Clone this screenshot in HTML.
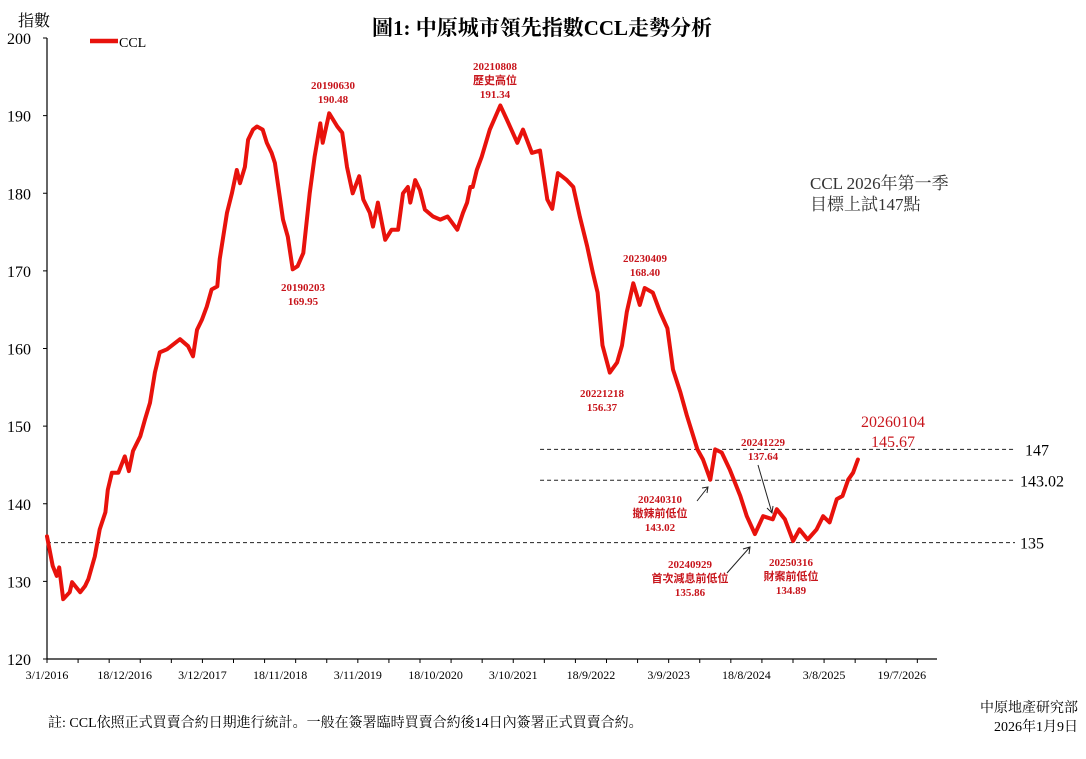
<!DOCTYPE html>
<html><head><meta charset="utf-8">
<style>
html,body{margin:0;padding:0;background:#fff;}
svg{display:block;}
.serif{font-family:"Liberation Serif","Noto Serif CJK SC","Noto Sans CJK TC",serif;}
.ann{font-family:"Liberation Serif","Noto Sans CJK TC",serif;font-size:11px;font-weight:bold;fill:#c8161d;}
</style></head>
<body>
<svg id="chart" width="1086" height="759" viewBox="0 0 1086 759" xmlns="http://www.w3.org/2000/svg">
<text class="serif" x="542" y="35" text-anchor="middle" font-size="21" font-weight="bold" fill="#000">圖1: 中原城市領先指數CCL走勢分析</text>
<text class="serif" x="18" y="26" font-size="16" fill="#000">指數</text>
<g>
<line x1="90" y1="41" x2="118" y2="41" stroke="#e8120c" stroke-width="4.5"/>
<text class="serif" x="119" y="47" font-size="14" fill="#000">CCL</text>
</g>
<g id="axes"></g>
<g id="refs"></g>
<g id="series"></g>
<g>
<text class="ann" x="333" y="89" text-anchor="middle">20190630</text>
<text class="ann" x="333" y="103" text-anchor="middle">190.48</text>
<text class="ann" x="303" y="291" text-anchor="middle">20190203</text>
<text class="ann" x="303" y="305" text-anchor="middle">169.95</text>
<text class="ann" x="495" y="70" text-anchor="middle">20210808</text>
<text class="ann" x="495" y="84" text-anchor="middle">歷史高位</text>
<text class="ann" x="495" y="98" text-anchor="middle">191.34</text>
<text class="ann" x="645" y="262" text-anchor="middle">20230409</text>
<text class="ann" x="645" y="276" text-anchor="middle">168.40</text>
<text class="ann" x="602" y="397" text-anchor="middle">20221218</text>
<text class="ann" x="602" y="411" text-anchor="middle">156.37</text>
<text class="serif" x="893" y="427" text-anchor="middle" font-size="16" fill="#c8161d">20260104</text>
<text class="serif" x="893" y="447" text-anchor="middle" font-size="16" fill="#c8161d">145.67</text>
<text class="ann" x="763" y="446" text-anchor="middle">20241229</text>
<text class="ann" x="763" y="460" text-anchor="middle">137.64</text>
<text class="ann" x="660" y="503" text-anchor="middle">20240310</text>
<text class="ann" x="660" y="517" text-anchor="middle">撤辣前低位</text>
<text class="ann" x="660" y="531" text-anchor="middle">143.02</text>
<text class="ann" x="690" y="568" text-anchor="middle">20240929</text>
<text class="ann" x="690" y="582" text-anchor="middle">首次減息前低位</text>
<text class="ann" x="690" y="596" text-anchor="middle">135.86</text>
<text class="ann" x="791" y="566" text-anchor="middle">20250316</text>
<text class="ann" x="791" y="580" text-anchor="middle">財案前低位</text>
<text class="ann" x="791" y="594" text-anchor="middle">134.89</text>
<g stroke="#222" stroke-width="1" fill="none">
<path d="M697 501 L708 487 M702 488 L708 487 L707 493"/>
<path d="M758 465 L772 513 M767 508 L772 513 L773 506"/>
<path d="M727 573 L750 547 M743 549 L750 547 L749 554"/>
</g>
<text class="serif" x="810" y="189" font-size="17" fill="#333">CCL 2026年第一季</text>
<text class="serif" x="810" y="210" font-size="17" fill="#333">目標上試147點</text>
</g>
<text class="serif" x="48" y="727" font-size="14" fill="#000">註: CCL依照正式買賣合約日期進行統計。一般在簽署臨時買賣合約後14日內簽署正式買賣合約。</text>
<text class="serif" x="1078" y="712" text-anchor="end" font-size="14" fill="#000">中原地產研究部</text>
<text class="serif" x="1078" y="731" text-anchor="end" font-size="14" fill="#000">2026年1月9日</text>
</svg>
<script>
const years=[2016.00,2016.07,2016.12,2016.15,2016.20,2016.28,2016.31,2016.41,2016.47,2016.51,2016.59,2016.65,2016.72,2016.75,2016.80,2016.88,2016.96,2017.01,2017.06,2017.15,2017.21,2017.27,2017.33,2017.39,2017.48,2017.64,2017.74,2017.80,2017.85,2017.91,2017.97,2018.03,2018.10,2018.13,2018.22,2018.28,2018.34,2018.38,2018.44,2018.48,2018.54,2018.59,2018.66,2018.71,2018.77,2018.81,2018.87,2018.91,2018.97,2019.03,2019.09,2019.16,2019.24,2019.30,2019.37,2019.40,2019.48,2019.58,2019.64,2019.70,2019.77,2019.85,2019.90,2019.98,2020.02,2020.08,2020.17,2020.25,2020.33,2020.39,2020.45,2020.48,2020.54,2020.60,2020.66,2020.76,2020.85,2020.94,2021.06,2021.13,2021.18,2021.22,2021.25,2021.30,2021.36,2021.46,2021.59,2021.67,2021.80,2021.87,2021.98,2022.08,2022.17,2022.23,2022.30,2022.41,2022.49,2022.57,2022.66,2022.73,2022.79,2022.85,2022.94,2023.03,2023.09,2023.15,2023.23,2023.31,2023.37,2023.47,2023.56,2023.65,2023.72,2023.81,2023.89,2024.02,2024.09,2024.18,2024.24,2024.32,2024.42,2024.55,2024.63,2024.73,2024.83,2024.95,2025.00,2025.10,2025.20,2025.28,2025.38,2025.49,2025.57,2025.65,2025.74,2025.81,2025.88,2025.94,2026.00];
const values=[135.8,132,130.7,131.8,127.7,128.6,129.9,128.6,129.4,130.3,133.2,136.7,138.9,141.8,144,144,146.1,144.2,146.8,148.7,150.9,153,156.9,159.5,159.9,161.2,160.3,159,162.4,163.7,165.4,167.6,168,171.5,177.5,180,183,181.3,183.4,186.9,188.2,188.6,188.2,186.5,185.2,183.9,179.6,176.6,174.4,170.2,170.6,172.3,180,184.7,189,186.5,190.3,188.6,187.8,183.4,180,182.2,179.2,177.5,175.7,178.8,174,175.3,175.3,180,180.8,178.8,181.7,180.4,177.9,177,176.6,177,175.3,177.5,178.8,180.8,180.8,183,184.7,188.2,191.3,189.5,186.5,188.2,185.2,185.5,179.2,178,182.6,181.7,180.8,177,173.2,169.8,167.2,160.4,156.9,158.2,160.4,164.7,168.4,165.6,167.8,167.2,164.7,162.6,157.3,154.4,151.4,147,145.7,143.1,147,146.6,144.4,141,138.4,136.1,138.4,138,139.3,138,135.2,136.7,135.4,136.7,138.4,137.6,140.6,141,143.1,144,145.7];
const yTicks=[120,130,140,150,160,170,180,190,200];
const xLabels=["3/1/2016","18/12/2016","3/12/2017","18/11/2018","3/11/2019","18/10/2020","3/10/2021","18/9/2022","3/9/2023","18/8/2024","3/8/2025","19/7/2026"];
const refLevels=[147,143.02,135];
const refLabels=["147","143.02","135"];
const refStart=[2022.08,2022.08,2016.0];

const NS="http://www.w3.org/2000/svg";
const X0=47,X1=937,T0=2016.0,T1=2026.975,Y0=659,Y1=38,V0=120,V1=200;
function xs(t){return X0+(t-T0)/(T1-T0)*(X1-X0);}
function ys(v){return Y0-(v-V0)/(V1-V0)*(Y0-Y1);}
function mk(tag,attrs,parent){const e=document.createElementNS(NS,tag);for(const k in attrs)e.setAttribute(k,attrs[k]);parent.appendChild(e);return e;}
const axes=document.getElementById('axes');
const ax=mk('path',{d:`M${X0} ${Y1} L${X0} ${Y0} L${X1} ${Y0}`,stroke:'#000','stroke-width':1.2,fill:'none'},axes);


yTicks.forEach(v=>{
  const y=ys(v);
  const t=mk('line',{x1:X0-4,x2:X0,y1:y,y2:y,stroke:'#000'},axes);
  
  
  const l=mk('text',{x:31,y:y+6,'text-anchor':'end','font-size':16,class:'serif',fill:'#000'},axes);
  
  
  l.textContent=v;
});
const tickStep=140/365.25;
for(let t=T0;t<=T1+0.001;t+=tickStep){
  const x=xs(t);
  const tk=mk('line',{x1:x,x2:x,y1:Y0,y2:Y0+4,stroke:'#000'},axes);
  
  
}
xLabels.forEach((s,i)=>{
  const x=xs(T0+i*350/365.25);
  const l=mk('text',{x:x,y:Y0+20,'text-anchor':'middle','font-size':12,class:'serif',fill:'#000'},axes);
  
  
  l.textContent=s;
});
const refs=document.getElementById('refs');
refLevels.forEach((v,i)=>{
  const y=ys(v);
  const ln=mk('line',{x1:xs(refStart[i]),x2:1015,y1:y,y2:y,stroke:'#222','stroke-width':1,'stroke-dasharray':'4 3'},refs);
  
  
  const lb=mk('text',{x:i===0?1025:1020,y:y+6,'font-size':16,class:'serif',fill:'#000'},refs);
  
  
  lb.textContent=refLabels[i];
});
const series=document.getElementById('series');
const d=years.map((t,i)=>(i?'L':'M')+xs(t).toFixed(1)+' '+ys(values[i]).toFixed(1)).join(' ');
const p=mk('path',{d:d,stroke:'#e8120c','stroke-width':4,fill:'none','stroke-linejoin':'round','stroke-linecap':'round'},series);


</script>
</body></html>
